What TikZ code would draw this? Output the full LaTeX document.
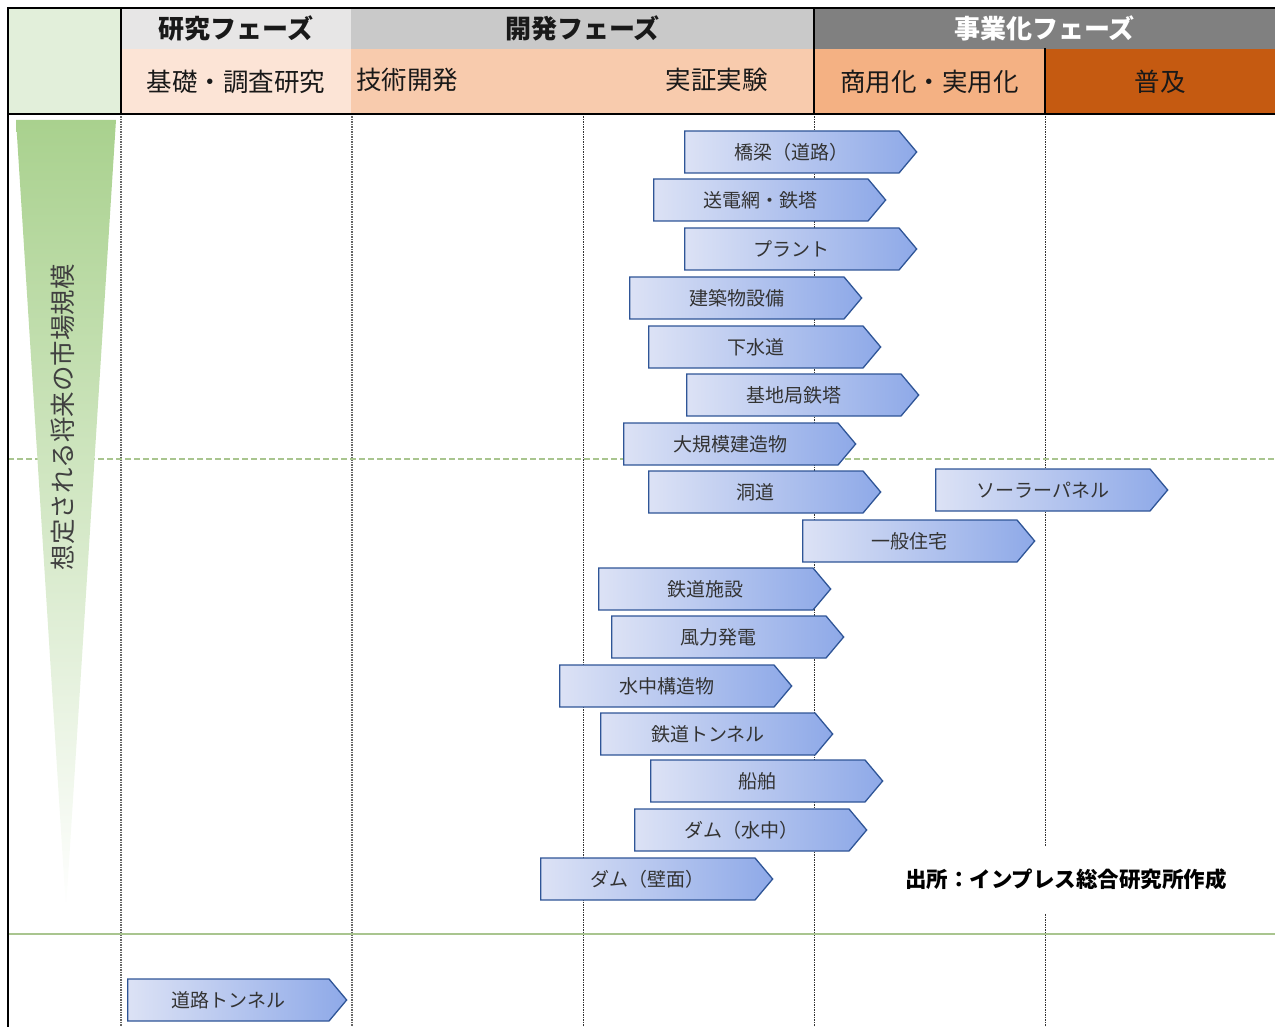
\documentclass[tikz,border=0pt]{standalone}
\usepackage{fontspec}
\setmainfont{Noto Sans CJK JP}
\usetikzlibrary{shapes.symbols}
\definecolor{vertClair}{HTML}{E2EFDA}
\definecolor{vertFort}{HTML}{A9D18E}
\definecolor{vertLigne}{HTML}{A9C58F}
\definecolor{grisClair}{HTML}{E7E6E6}
\definecolor{grisMoyen}{HTML}{C9C9C9}
\definecolor{grisFonce}{HTML}{808080}
\definecolor{peche}{HTML}{FCE4D6}
\definecolor{saumon}{HTML}{F8CBAD}
\definecolor{abricot}{HTML}{F4B183}
\definecolor{rouille}{HTML}{C55A11}
\definecolor{bleuBord}{HTML}{2F5597}
\definecolor{bleuG}{HTML}{DCE2F5}
\definecolor{bleuD}{HTML}{8EA9E8}
\definecolor{texte}{HTML}{333333}
\tikzset{
  cellule/.style={inner sep=0pt, minimum height=41pt, text=black!90},
  titre/.style={font=\bfseries\fontsize{26}{30}\selectfont},
  phase/.style={font=\fontsize{25.5}{30}\selectfont},
  fleche/.style={signal, signal to=east, signal pointer angle=100, draw=bleuBord,
    line width=1.3pt, left color=bleuG, right color=bleuD, minimum width=232pt,
    minimum height=42pt, inner sep=0pt, text=texte, anchor=west,
    font=\fontsize{19}{22}\selectfont},
  bord/.style={line width=2pt, line cap=rect},
  sepgris/.style={draw=black!60, densely dotted, line width=1.5pt},
  sepnoir/.style={draw=black!80, dash pattern=on 1.5pt off 1pt, line width=0.7pt},
}
\begin{document}
\begin{tikzpicture}[x=1pt,y=-1pt]
    \def \haut{8}; % bord du haut
    \def \milieu{49};
    \def \bas{114}; % fin de l'en-tete
    \def \fin{1027};
    \def \droite{1275};
    \useasboundingbox (0,0) rectangle (\droite,\fin);
    % en-tete
    \node[cellule, fill=vertClair, minimum width=113pt, minimum height=106pt] (coin) at (64.5,61) {};
    \node[cellule, titre, fill=grisClair, minimum width=230pt] (recherche) at (236,28.5) {研究フェーズ};
    \node[cellule, titre, fill=grisMoyen, minimum width=463pt] (developpement) at (582.5,28.5) {開発フェーズ};
    \node[cellule, titre, fill=grisFonce, minimum width=461pt, text=white] (commerce) at (1044.5,28.5) {事業化フェーズ};
    \node[cellule, phase, fill=peche, minimum width=230pt, minimum height=65pt] (base) at (236,81.5) {基礎・調査研究};
    \node[cellule, fill=saumon, minimum width=463pt, minimum height=65pt] (essai) at (582.5,81.5) {};
    \node[cellule, phase, anchor=west] (technique) at (356,80) {技術開発};
    \node[cellule, phase, anchor=east] (preuve) at (768,80) {実証実験};
    \node[cellule, phase, fill=abricot, minimum width=231pt, minimum height=65pt] (usage) at (929.5,81.5) {商用化・実用化};
    \node[cellule, phase, fill=rouille, minimum width=230pt, minimum height=65pt] (diffusion) at (1160,81.5) {普及};
    % colonnes et lignes
    \foreach \x in {121,352} \draw[sepgris] (\x,\bas) -- (\x,\fin);
    \foreach \x in {583,814,1045} \draw[sepnoir] (\x,\bas) -- (\x,\fin);
    \draw[vertLigne, line width=1.2pt, dash pattern=on 6pt off 3pt] (\haut,459) -- (\droite,459);
    \draw[vertLigne, line width=1.5pt] (\haut,934) -- (\droite,934);
    \draw[bord] (\droite,\haut) -- (\haut,\haut) -- (\haut,\fin);
    \draw[bord] (\haut,\bas) -- (\droite,\bas);
    \draw[bord] (121,\haut) -- (121,\bas);
    \draw[bord] (814,\haut) -- (814,\bas);
    \draw[bord] (1045,\milieu) -- (1045,\bas);
    % taille du marche
    \shade[top color=vertFort, bottom color=white] (16,120) -- (116,120) -- (66,910) -- cycle;
    \node[rotate=90, text=black!75, font=\fontsize{25.5}{30}\selectfont] (marche) at (63,417) {想定される将来の市場規模};
    % domaines
    \foreach \nom/\x/\y/\txt in {pont/684/152/橋梁（道路）, pylone/653/200/送電網・鉄塔,
        usine/684/249/プラント, batiment/629/298/建築物設備, egout/648/347/下水道,
        antenne/686/395/基地局鉄塔, ouvrage/623/444/大規模建造物, galerie/648/492/洞道,
        solaire/935/490/ソーラーパネル, maison/802/541/一般住宅, rail/598/589/鉄道施設,
        eolien/611/637/風力発電, immerge/559/686/水中構造物, tunnelrail/600/734/鉄道トンネル,
        navire/650/781/船舶, barrageEau/634/830/ダム（水中）, barrageMur/540/879/ダム（壁面）}
    \node[fleche] (\nom) at (\x,\y) {\txt};
    \node[fleche, minimum width=219pt] (tunnelRoute) at (127,1000) {道路トンネル};
    \node[fill=white, inner xsep=2pt, minimum height=67pt, font=\bfseries\fontsize{21.5}{24}\selectfont] (source) at (1066,879) {出所：インプレス総合研究所作成};
\end{tikzpicture}
\end{document}
